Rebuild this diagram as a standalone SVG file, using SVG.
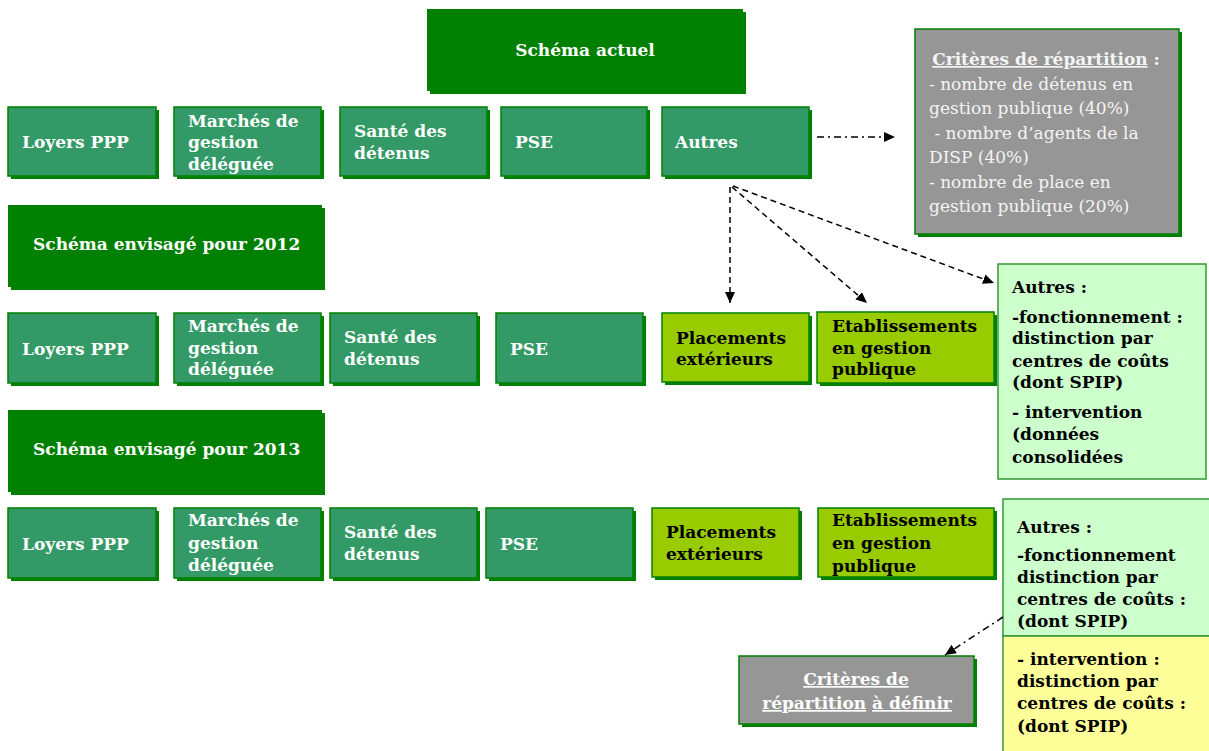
<svg xmlns="http://www.w3.org/2000/svg" width="1209" height="751" viewBox="0 0 1209 751">
  <style>
    .shadow { fill: #008000; }
    .hdr { fill: #008000; }
    .teal { fill: #339966; stroke: #008000; stroke-width: 1.5; }
    .lime { fill: #99cc00; stroke: #008000; stroke-width: 1.5; }
    .gray { fill: #969696; stroke: #008000; stroke-width: 1.5; }
    .pale { fill: #ccffcc; stroke: #339933; stroke-width: 1.5; }
    .yellow { fill: #ffff99; stroke: #339933; stroke-width: 1.5; }
    text { font-family: "DejaVu Serif", "Liberation Serif", serif; font-size: 17px; }
    .w { fill: #ffffff; font-weight: bold; }
    .b { fill: #000000; font-weight: bold; }
    .g { fill: #f4f4f4; }
    .u { text-decoration: underline; }
    .dash { fill: none; stroke: #000; stroke-width: 1.5; stroke-dasharray: 6 4; }
    .dashdot { fill: none; stroke: #000; stroke-width: 1.5; stroke-dasharray: 7 4 2 4; }
  </style>
  <defs>
    <marker id="arrow" markerUnits="userSpaceOnUse" markerWidth="12" markerHeight="10" refX="11" refY="5" orient="auto">
      <path d="M0,0 L11,5 L0,10 z" fill="#000"/>
    </marker>
  </defs>

  <!-- Section headers -->
  <g id="hdr-actuel">
    <rect class="shadow" x="430" y="12" width="316" height="82"/>
    <rect class="hdr" x="427" y="9" width="316" height="82"/>
    <text class="w" x="585" y="56" text-anchor="middle">Schéma actuel</text>
  </g>
  <g id="hdr-2012">
    <rect class="shadow" x="11" y="208" width="314" height="82"/>
    <rect class="hdr" x="8" y="205" width="314" height="82"/>
    <text class="w" x="33" y="250">Schéma envisagé pour 2012</text>
  </g>
  <g id="hdr-2013">
    <rect class="shadow" x="11" y="413" width="314" height="82"/>
    <rect class="hdr" x="8" y="410" width="314" height="82"/>
    <text class="w" x="33" y="455">Schéma envisagé pour 2013</text>
  </g>

  <!-- Current scheme -->
  <g id="r1-loyers">
    <rect class="shadow" x="11" y="110" width="148" height="69"/>
    <rect class="teal" x="8" y="107" width="148" height="69"/>
    <text class="w" x="22" y="148">Loyers PPP</text>
  </g>
  <g id="r1-marches">
    <rect class="shadow" x="177" y="110" width="147" height="69"/>
    <rect class="teal" x="174" y="107" width="147" height="69"/>
    <text class="w" x="188" y="127">Marchés de</text>
    <text class="w" x="188" y="148">gestion</text>
    <text class="w" x="188" y="170">déléguée</text>
  </g>
  <g id="r1-sante">
    <rect class="shadow" x="343" y="110" width="147" height="69"/>
    <rect class="teal" x="340" y="107" width="147" height="69"/>
    <text class="w" x="354" y="137">Santé des</text>
    <text class="w" x="354" y="159">détenus</text>
  </g>
  <g id="r1-pse">
    <rect class="shadow" x="504" y="110" width="146" height="69"/>
    <rect class="teal" x="501" y="107" width="146" height="69"/>
    <text class="w" x="515" y="148">PSE</text>
  </g>
  <g id="r1-autres">
    <rect class="shadow" x="665" y="110" width="147" height="69"/>
    <rect class="teal" x="662" y="107" width="147" height="69"/>
    <text class="w" x="675" y="148">Autres</text>
  </g>
  <g id="criteres">
    <rect class="shadow" x="918" y="32" width="264" height="205"/>
    <rect class="gray" x="915" y="29" width="264" height="205"/>
    <text class="g" x="1046" y="65" text-anchor="middle" font-weight="bold"><tspan class="u">Critères de répartition</tspan> :</text>
    <text class="g" x="929" y="89.5">- nombre de détenus en</text>
    <text class="g" x="929" y="114">gestion publique (40%)</text>
    <text class="g" x="929" y="138.5" xml:space="preserve"> - nombre d’agents de la</text>
    <text class="g" x="929" y="163">DISP (40%)</text>
    <text class="g" x="929" y="187.5">- nombre de place en</text>
    <text class="g" x="929" y="212">gestion publique (20%)</text>
  </g>

  <!-- 2012 scheme -->
  <g id="r2-loyers">
    <rect class="shadow" x="11" y="316" width="148" height="70"/>
    <rect class="teal" x="8" y="313" width="148" height="70"/>
    <text class="w" x="22" y="355">Loyers PPP</text>
  </g>
  <g id="r2-marches">
    <rect class="shadow" x="177" y="316" width="147" height="70"/>
    <rect class="teal" x="174" y="313" width="147" height="70"/>
    <text class="w" x="188" y="332">Marchés de</text>
    <text class="w" x="188" y="354">gestion</text>
    <text class="w" x="188" y="375">déléguée</text>
  </g>
  <g id="r2-sante">
    <rect class="shadow" x="333" y="316" width="147" height="70"/>
    <rect class="teal" x="330" y="313" width="147" height="70"/>
    <text class="w" x="344" y="343">Santé des</text>
    <text class="w" x="344" y="365">détenus</text>
  </g>
  <g id="r2-pse">
    <rect class="shadow" x="499" y="316" width="147" height="70"/>
    <rect class="teal" x="496" y="313" width="147" height="70"/>
    <text class="w" x="510" y="355">PSE</text>
  </g>
  <g id="r2-placements">
    <rect class="shadow" x="665" y="316" width="147" height="69"/>
    <rect class="lime" x="662" y="313" width="147" height="69"/>
    <text class="b" x="676" y="344">Placements</text>
    <text class="b" x="676" y="365">extérieurs</text>
  </g>
  <g id="r2-etablissements">
    <rect class="shadow" x="820" y="315" width="177" height="71"/>
    <rect class="lime" x="817" y="312" width="177" height="71"/>
    <text class="b" x="832" y="332">Etablissements</text>
    <text class="b" x="832" y="354">en gestion</text>
    <text class="b" x="832" y="375">publique</text>
  </g>
  <g id="r2-autres">
    <rect class="pale" x="998" y="264" width="208" height="215"/>
    <text class="b" x="1012" y="293">Autres :</text>
    <text class="b" x="1012" y="323">-fonctionnement :</text>
    <text class="b" x="1012" y="344">distinction par</text>
    <text class="b" x="1012" y="367">centres de coûts</text>
    <text class="b" x="1012" y="388">(dont SPIP)</text>
    <text class="b" x="1012" y="418">- intervention</text>
    <text class="b" x="1012" y="440">(données</text>
    <text class="b" x="1012" y="463">consolidées</text>
  </g>

  <!-- 2013 scheme -->
  <g id="r3-loyers">
    <rect class="shadow" x="11" y="511" width="148" height="70"/>
    <rect class="teal" x="8" y="508" width="148" height="70"/>
    <text class="w" x="22" y="550">Loyers PPP</text>
  </g>
  <g id="r3-marches">
    <rect class="shadow" x="177" y="511" width="147" height="70"/>
    <rect class="teal" x="174" y="508" width="147" height="70"/>
    <text class="w" x="188" y="526">Marchés de</text>
    <text class="w" x="188" y="549">gestion</text>
    <text class="w" x="188" y="571">déléguée</text>
  </g>
  <g id="r3-sante">
    <rect class="shadow" x="333" y="511" width="147" height="70"/>
    <rect class="teal" x="330" y="508" width="147" height="70"/>
    <text class="w" x="344" y="538">Santé des</text>
    <text class="w" x="344" y="560">détenus</text>
  </g>
  <g id="r3-pse">
    <rect class="shadow" x="489" y="511" width="147" height="70"/>
    <rect class="teal" x="486" y="508" width="147" height="70"/>
    <text class="w" x="500" y="550">PSE</text>
  </g>
  <g id="r3-placements">
    <rect class="shadow" x="655" y="511" width="147" height="69"/>
    <rect class="lime" x="652" y="508" width="147" height="69"/>
    <text class="b" x="666" y="538">Placements</text>
    <text class="b" x="666" y="560">extérieurs</text>
  </g>
  <g id="r3-etablissements">
    <rect class="shadow" x="821" y="511" width="176" height="69"/>
    <rect class="lime" x="818" y="508" width="176" height="69"/>
    <text class="b" x="832" y="526">Etablissements</text>
    <text class="b" x="832" y="549">en gestion</text>
    <text class="b" x="832" y="572">publique</text>
  </g>
  <g id="r3-autres">
    <rect class="pale" x="1003" y="499" width="210" height="137"/>
    <rect class="yellow" x="1003" y="636" width="210" height="120"/>
    <text class="b" x="1017" y="533">Autres :</text>
    <text class="b" x="1017" y="561">-fonctionnement</text>
    <text class="b" x="1017" y="583">distinction par</text>
    <text class="b" x="1017" y="605">centres de coûts :</text>
    <text class="b" x="1017" y="627">(dont SPIP)</text>
    <text class="b" x="1017" y="665">- intervention :</text>
    <text class="b" x="1017" y="687">distinction par</text>
    <text class="b" x="1017" y="709">centres de coûts :</text>
    <text class="b" x="1017" y="732">(dont SPIP)</text>
  </g>
  <g id="criteres-a-definir">
    <rect class="shadow" x="742" y="659" width="235" height="68"/>
    <rect class="gray" x="739" y="656" width="235" height="68"/>
    <text class="w" x="856" y="685" text-anchor="middle"><tspan class="u">Critères de</tspan></text>
    <text class="w" x="857" y="709" text-anchor="middle"><tspan class="u">répartition</tspan> <tspan class="u">à définir</tspan></text>
  </g>

  <!-- Connectors -->
  <g id="connectors">
    <line class="dashdot" x1="817" y1="137" x2="895" y2="137" marker-end="url(#arrow)"/>
    <line class="dash" x1="730" y1="187" x2="730" y2="303" marker-end="url(#arrow)"/>
    <line class="dash" x1="732" y1="187" x2="867" y2="303" marker-end="url(#arrow)"/>
    <line class="dash" x1="733" y1="186" x2="994" y2="283" marker-end="url(#arrow)"/>
    <line class="dashdot" x1="1003" y1="617" x2="945" y2="655" marker-end="url(#arrow)"/>
  </g>
</svg>
